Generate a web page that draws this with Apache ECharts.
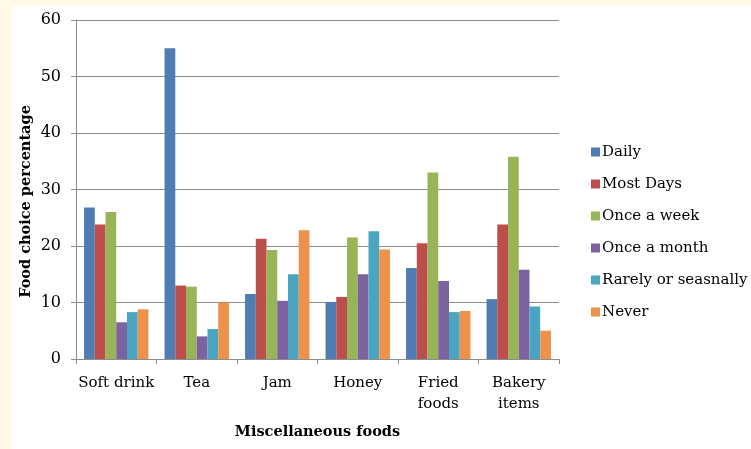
<!DOCTYPE html>
<html>
<head>
<meta charset="utf-8">
<script src="https://cdn.jsdelivr.net/npm/echarts@6/dist/echarts.min.js"></script>
<style>
  html, body { margin: 0; padding: 0; background: #fffbe8; }
  #chart { position: absolute; left: 12px; top: 6px; width: 739px; height: 443px; background: #ffffff; }
</style>
</head>
<body>
<div id="chart"></div>
<script>
// Food categories on the x axis
const categories = ['Soft drink', 'Tea', 'Jam', 'Honey', 'Fried\nfoods', 'Bakery\nitems'];

// Percentage of respondents per consumption frequency
const daily         = [26.8, 55.0, 11.5, 10.1, 16.1, 10.6];
const mostDays      = [23.8, 13.0, 21.3, 11.0, 20.5, 23.8];
const onceAWeek     = [26.0, 12.8, 19.3, 21.5, 33.0, 35.8];
const onceAMonth    = [6.5, 4.0, 10.3, 15.0, 13.8, 15.8];
const rarely        = [8.3, 5.3, 15.0, 22.6, 8.3, 9.3];
const never         = [8.8, 10.0, 22.8, 19.4, 8.5, 5.0];

const seriesNames = ['Daily', 'Most Days', 'Once a week', 'Once a month', 'Rarely or seasnally', 'Never'];
const seriesData = [daily, mostDays, onceAWeek, onceAMonth, rarely, never];
const colors = ['#4f7cb3', '#bc4f4c', '#97b457', '#7d62a0', '#4aa6c0', '#ee914a'];

const serif = '"DejaVu Serif", serif';
const gridGray = '#8c8c8c';

const chart = echarts.init(document.getElementById('chart'), null, { renderer: 'canvas' });

chart.setOption({
  animation: false,
  color: colors,
  grid: { left: 64, right: 192, top: 14, bottom: 90, containLabel: false, outerBoundsMode: 'none' },
  legend: {
    orient: 'vertical',
    left: 574,
    top: 131,
    itemWidth: 9,
    itemHeight: 9,
    itemGap: 12,
    icon: 'rect',
    textStyle: { fontFamily: serif, fontSize: 15, color: '#000', lineHeight: 20, padding: [0, 0, 0, -3] },
    data: seriesNames
  },
  xAxis: {
    type: 'category',
    data: categories,
    name: 'Miscellaneous foods',
    nameLocation: 'middle',
    nameGap: 66,
    nameMoveOverlap: false,
    nameTextStyle: { fontFamily: serif, fontSize: 14.5, fontWeight: 'bold', color: '#000' },
    axisLine: { lineStyle: { color: gridGray, width: 1 } },
    axisTick: { show: true, length: 5, lineStyle: { color: gridGray } },
    axisLabel: { interval: 0, fontFamily: serif, fontSize: 15, color: '#000', margin: 14, lineHeight: 21 }
  },
  yAxis: {
    type: 'value',
    min: 0,
    max: 60,
    interval: 10,
    name: 'Food choice percentage',
    nameLocation: 'middle',
    nameGap: 42,
    nameMoveOverlap: false,
    nameTextStyle: { fontFamily: serif, fontSize: 14.5, fontWeight: 'bold', color: '#000', padding: [0, 24, 0, 0] },
    axisLine: { show: true, lineStyle: { color: gridGray, width: 1 } },
    axisTick: { show: true, length: 5, lineStyle: { color: gridGray } },
    axisLabel: { fontFamily: serif, fontSize: 16, color: '#000', margin: 15 },
    splitLine: { show: true, lineStyle: { color: gridGray, width: 1 } }
  },
  series: seriesNames.map((name, i) => ({
    name: name,
    type: 'bar',
    data: seriesData[i],
    barGap: '0%',
    barCategoryGap: '20%',
    itemStyle: { color: colors[i] }
  }))
});
</script>
</body>
</html>
